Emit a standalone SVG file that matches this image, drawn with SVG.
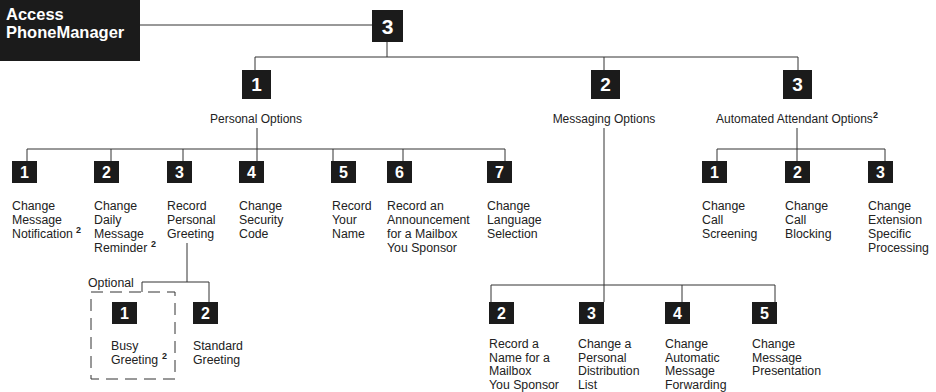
<svg xmlns="http://www.w3.org/2000/svg" width="936" height="392" viewBox="0 0 936 392">
<style>
.bg{fill:#fff}
.box{fill:#1b1b1b}
.num{font-family:"Liberation Sans",Arial,sans-serif;font-weight:bold;fill:#fff;text-anchor:middle}
.n2{font-size:16px}
.n1{font-size:19px}
.n0{font-size:21px}
.lbl{font-family:"Liberation Sans",Arial,sans-serif;font-size:12.3px;fill:#222}
.top{font-size:12px;text-anchor:middle}
.sup{font-family:"Liberation Sans",Arial,sans-serif;font-size:9px;font-weight:bold;fill:#222}
.conn{stroke:#333;stroke-width:1;fill:none}
.dash{stroke:#333;stroke-width:1;fill:none;stroke-dasharray:12 7}
.title{font-family:"Liberation Sans",Arial,sans-serif;font-weight:bold;font-size:16.5px;fill:#fff}
</style>
<rect class="bg" x="0" y="0" width="936" height="392"/>
<g id="connectors">
  <path class="conn" d="M140 25H372"/>
  <path class="conn" d="M387 42V57M255 57H798M255 57V70M604 57V70M798 57V70"/>
  <path class="conn" d="M257 128V149M27 149H505M27 149V161M111 149V161M183 149V161M257 149V161M333 149V161M403 149V161M505 149V161"/>
  <path class="conn" d="M797 128V149M717 149H885M717 149V161M797 149V161M885 149V161"/>
  <path class="conn" d="M604 128V302M491 285H775M491 285V302M682 285V302M775 285V302"/>
  <path class="conn" d="M187 243V282M142 282H209M142 282V292M209 282V302"/>
</g>
<g id="access">
  <rect class="box" x="0" y="0" width="140" height="61"/>
  <text class="title" x="6" y="20">Access</text>
  <text class="title" x="6" y="38">PhoneManager</text>
</g>
<g id="n3">
  <rect class="box" x="372" y="10" width="31" height="32"/>
  <text class="num n0" x="387.5" y="33.5">3</text>
</g>
<g id="personal">
  <rect class="box" x="242" y="70" width="29" height="29"/>
  <text class="num n1" x="256.5" y="91">1</text>
  <text class="lbl top" x="256" y="123">Personal Options</text>
</g>
<g id="messaging">
  <rect class="box" x="591" y="70" width="29" height="29"/>
  <text class="num n1" x="605.5" y="91">2</text>
  <text class="lbl top" x="604" y="123">Messaging Options</text>
</g>
<g id="automated">
  <rect class="box" x="783" y="70" width="29" height="29"/>
  <text class="num n1" x="797.5" y="91">3</text>
  <text class="lbl top" x="797" y="123">Automated Attendant Options<tspan class="sup" dy="-5">2</tspan></text>
</g>
<g id="p1">
  <rect class="box" x="12" y="161" width="25" height="22"/>
  <text class="num n2" x="24.5" y="178">1</text>
  <text class="lbl" x="12" y="210"><tspan x="12">Change</tspan><tspan x="12" dy="14">Message</tspan><tspan x="12" dy="14">Notification</tspan></text>
  <text class="sup" x="76" y="233">2</text>
</g>
<g id="p2">
  <rect class="box" x="94" y="161" width="25" height="22"/>
  <text class="num n2" x="106.5" y="178">2</text>
  <text class="lbl" x="94" y="210"><tspan x="94">Change</tspan><tspan x="94" dy="14">Daily</tspan><tspan x="94" dy="14">Message</tspan><tspan x="94" dy="14">Reminder</tspan></text>
  <text class="sup" x="151" y="247">2</text>
</g>
<g id="p3">
  <rect class="box" x="167" y="161" width="25" height="22"/>
  <text class="num n2" x="179.5" y="178">3</text>
  <text class="lbl" x="167" y="210"><tspan x="167">Record</tspan><tspan x="167" dy="14">Personal</tspan><tspan x="167" dy="14">Greeting</tspan></text>
</g>
<g id="p4">
  <rect class="box" x="239" y="161" width="25" height="22"/>
  <text class="num n2" x="251.5" y="178">4</text>
  <text class="lbl" x="239" y="210"><tspan x="239">Change</tspan><tspan x="239" dy="14">Security</tspan><tspan x="239" dy="14">Code</tspan></text>
</g>
<g id="p5">
  <rect class="box" x="331" y="161" width="25" height="22"/>
  <text class="num n2" x="343.5" y="178">5</text>
  <text class="lbl" x="332" y="210"><tspan x="332">Record</tspan><tspan x="332" dy="14">Your</tspan><tspan x="332" dy="14">Name</tspan></text>
</g>
<g id="p6">
  <rect class="box" x="387" y="161" width="25" height="22"/>
  <text class="num n2" x="399.5" y="178">6</text>
  <text class="lbl" x="387" y="210"><tspan x="387">Record an</tspan><tspan x="387" dy="14">Announcement</tspan><tspan x="387" dy="14">for a Mailbox</tspan><tspan x="387" dy="14">You Sponsor</tspan></text>
</g>
<g id="p7">
  <rect class="box" x="487" y="161" width="25" height="22"/>
  <text class="num n2" x="499.5" y="178">7</text>
  <text class="lbl" x="487" y="210"><tspan x="487">Change</tspan><tspan x="487" dy="14">Language</tspan><tspan x="487" dy="14">Selection</tspan></text>
</g>
<g id="a1">
  <rect class="box" x="702" y="161" width="25" height="22"/>
  <text class="num n2" x="714.5" y="178">1</text>
  <text class="lbl" x="702" y="210"><tspan x="702">Change</tspan><tspan x="702" dy="14">Call</tspan><tspan x="702" dy="14">Screening</tspan></text>
</g>
<g id="a2">
  <rect class="box" x="785" y="161" width="25" height="22"/>
  <text class="num n2" x="797.5" y="178">2</text>
  <text class="lbl" x="785" y="210"><tspan x="785">Change</tspan><tspan x="785" dy="14">Call</tspan><tspan x="785" dy="14">Blocking</tspan></text>
</g>
<g id="a3">
  <rect class="box" x="868" y="161" width="25" height="22"/>
  <text class="num n2" x="880.5" y="178">3</text>
  <text class="lbl" x="868" y="210"><tspan x="868">Change</tspan><tspan x="868" dy="14">Extension</tspan><tspan x="868" dy="14">Specific</tspan><tspan x="868" dy="14">Processing</tspan></text>
</g>
<g id="m2">
  <rect class="box" x="489" y="302" width="25" height="22"/>
  <text class="num n2" x="501.5" y="319">2</text>
  <text class="lbl" x="489" y="348"><tspan x="489">Record a</tspan><tspan x="489" dy="13.5">Name for a</tspan><tspan x="489" dy="13.5">Mailbox</tspan><tspan x="489" dy="13.5">You Sponsor</tspan></text>
</g>
<g id="m3">
  <rect class="box" x="579" y="302" width="25" height="22"/>
  <text class="num n2" x="591.5" y="319">3</text>
  <text class="lbl" x="578" y="348"><tspan x="578">Change a</tspan><tspan x="578" dy="13.5">Personal</tspan><tspan x="578" dy="13.5">Distribution</tspan><tspan x="578" dy="13.5">List</tspan></text>
</g>
<g id="m4">
  <rect class="box" x="665" y="302" width="25" height="22"/>
  <text class="num n2" x="677.5" y="319">4</text>
  <text class="lbl" x="665" y="348"><tspan x="665">Change</tspan><tspan x="665" dy="13.5">Automatic</tspan><tspan x="665" dy="13.5">Message</tspan><tspan x="665" dy="13.5">Forwarding</tspan></text>
</g>
<g id="m5">
  <rect class="box" x="752" y="302" width="25" height="22"/>
  <text class="num n2" x="764.5" y="319">5</text>
  <text class="lbl" x="752" y="348"><tspan x="752">Change</tspan><tspan x="752" dy="13.5">Message</tspan><tspan x="752" dy="13.5">Presentation</tspan></text>
</g>
<g id="optional">
  <rect class="dash" x="91" y="292" width="84" height="87"/>
  <text class="lbl" x="88" y="287">Optional</text>
</g>
<g id="g1">
  <rect class="box" x="112" y="302" width="25" height="22"/>
  <text class="num n2" x="124.5" y="319">1</text>
  <text class="lbl" x="111" y="350"><tspan x="111">Busy</tspan><tspan x="111" dy="14">Greeting</tspan></text>
  <text class="sup" x="162" y="359">2</text>
</g>
<g id="g2">
  <rect class="box" x="193" y="302" width="25" height="22"/>
  <text class="num n2" x="205.5" y="319">2</text>
  <text class="lbl" x="193" y="350"><tspan x="193">Standard</tspan><tspan x="193" dy="14">Greeting</tspan></text>
</g>
</svg>
